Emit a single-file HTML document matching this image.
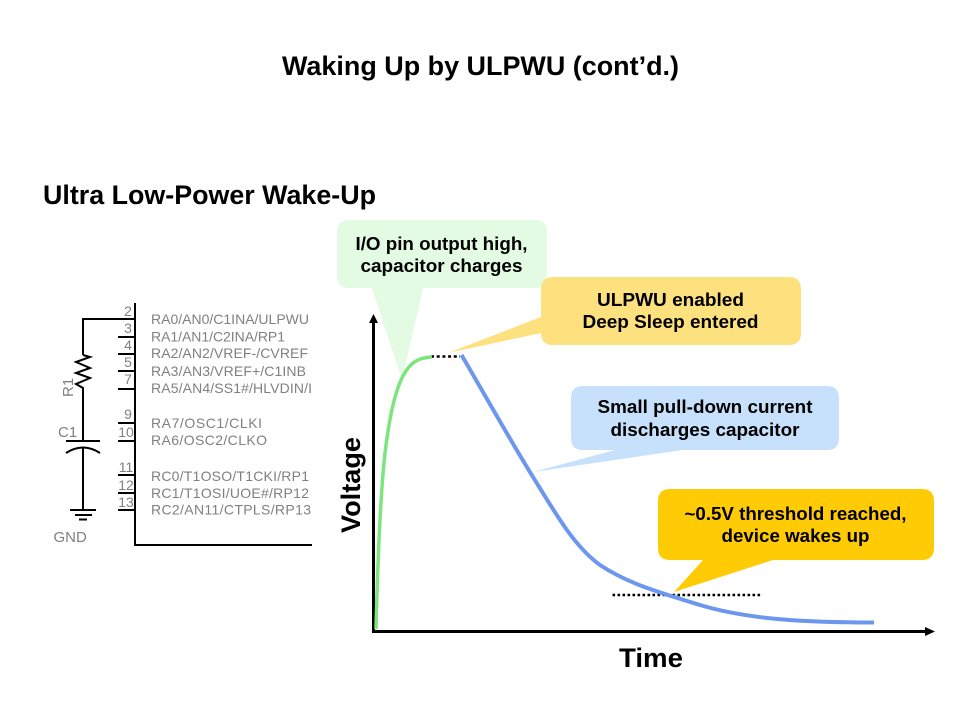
<!DOCTYPE html>
<html><head><meta charset="utf-8"><style>
html,body{margin:0;padding:0;background:#fff;width:960px;height:720px;overflow:hidden}
svg{display:block}
text{font-family:"Liberation Sans",sans-serif}
.b{font-weight:bold;fill:#000;text-anchor:middle;font-size:18.67px}
.p{fill:#808080;font-size:14px}
.n{fill:#808080;font-size:14px;text-anchor:middle}
.l{fill:#808080;font-size:15px}
</style></head><body>
<svg width="960" height="720" viewBox="0 0 960 720" xmlns="http://www.w3.org/2000/svg">
<defs><clipPath id="c"><rect x="140" y="300" width="172" height="230"/></clipPath></defs>
<rect width="960" height="720" fill="#fff"/>
<text x="480.500" y="75" font-size="26.670" font-weight="bold" text-anchor="middle" textLength="397" lengthAdjust="spacingAndGlyphs">Waking Up by ULPWU (cont’d.)</text>
<text x="43" y="204" font-size="26.670" font-weight="bold" textLength="333" lengthAdjust="spacingAndGlyphs">Ultra Low-Power Wake-Up</text>

<!-- schematic -->
<g stroke="#000" stroke-width="2" fill="none">
<path d="M135 303V545H312"/>
<path d="M83 355V319H135"/>
<path d="M118 337H135M118 354H135M118 371H135M118 389H135M118 423H135M118 441H135M118 475H135M118 493H135M118 510H135"/>
<path d="M83 355L90 357L76 362L90 368L76 373L90 378L76 384L83 388V441"/>
<path d="M66 441H100"/>
<path d="M66 453Q83 442 100 453"/>
<path d="M83 448V510"/>
<path d="M70 510H96M75 515H92M79 519.500H87"/>
</g>
<text class="n" x="128" y="316">2</text><text class="n" x="128" y="333">3</text><text class="n" x="128" y="350">4</text><text class="n" x="128" y="367">5</text><text class="n" x="128" y="384">7</text><text class="n" x="128" y="419">9</text><text class="n" x="126" y="437">10</text><text class="n" x="126" y="472">11</text><text class="n" x="126" y="490">12</text><text class="n" x="126" y="507">13</text>
<g clip-path="url(#c)">
<text class="p" x="151" y="324" textLength="158">RA0/AN0/C1INA/ULPWU</text>
<text class="p" x="151" y="341.500" textLength="134">RA1/AN1/C2INA/RP1</text>
<text class="p" x="151" y="358" textLength="157">RA2/AN2/VREF-/CVREF</text>
<text class="p" x="151" y="376" textLength="155">RA3/AN3/VREF+/C1INB</text>
<text class="p" x="151" y="393" textLength="161">RA5/AN4/SS1#/HLVDIN/I</text>
<text class="p" x="151" y="428" textLength="111">RA7/OSC1/CLKI</text>
<text class="p" x="151" y="445" textLength="116">RA6/OSC2/CLKO</text>
<text class="p" x="151" y="481" textLength="158">RC0/T1OSO/T1CKI/RP1</text>
<text class="p" x="151" y="498" textLength="158">RC1/T1OSI/UOE#/RP12</text>
<text class="p" x="151" y="514.500" textLength="160">RC2/AN11/CTPLS/RP13</text>
</g>
<text x="0" y="0" class="l" transform="translate(73,397) rotate(-90)">R1</text>
<text x="58" y="437" class="l">C1</text>
<text x="53.500" y="542" class="l">GND</text>

<!-- axes -->
<path d="M373.500 632V322" stroke="#000" stroke-width="3" fill="none"/>
<path d="M369 323L373.500 314L378 323Z" fill="#000"/>
<path d="M372 631.500H926" stroke="#000" stroke-width="3" fill="none"/>
<path d="M925 627L935 631.500L925 636Z" fill="#000"/>

<!-- callouts -->
<path d="M349 220H535Q547 220 547 232V276Q547 288 535 288H423L402 380L372 288H349Q337 288 337 276V232Q337 220 349 220Z" fill="#e3fbe3"/>
<path d="M553 277H789Q801 277 801 289V333Q801 345 789 345H553Q541 345 541 333L448 353L541 317V289Q541 277 553 277Z" fill="#fde17f"/>
<path d="M583 386H827Q839 386 839 398V438Q839 450 827 450H683L533 472L615 450H583Q571 450 571 438V398Q571 386 583 386Z" fill="#c7e1fc"/>
<path d="M670 489H922Q934 489 934 501V548Q934 560 922 560H773L674 592L703 560H670Q658 560 658 548V501Q658 489 670 489Z" fill="#ffcb05"/>

<!-- curves -->
<path d="M431 356.500H460" stroke="#000" stroke-width="2.500" stroke-dasharray="3 2.700" fill="none"/>
<path d="M612.500 595H761" stroke="#000" stroke-width="2.500" stroke-dasharray="2.600 2.400" fill="none"/>
<path d="M376 629C377.500 570 380 490 386 445C391 408 398 375 413 363C419 358.500 425 357.500 432 357" stroke="#7de57d" stroke-width="3.500" fill="none"/>
<path d="M461.500 355C485 395 510 440 533 477C557 516 575 547 600 565C630 585 665 594 700 605C750 620 810 622.500 874 622.500" stroke="#6d97ee" stroke-width="4" fill="none"/>

<text class="b" x="441.500" y="250" textLength="172" lengthAdjust="spacingAndGlyphs">I/O pin output high,</text>
<text class="b" x="441.500" y="272" textLength="162" lengthAdjust="spacingAndGlyphs">capacitor charges</text>
<text class="b" x="670.500" y="306" textLength="147" lengthAdjust="spacingAndGlyphs">ULPWU enabled</text>
<text class="b" x="670.500" y="328" textLength="176" lengthAdjust="spacingAndGlyphs">Deep Sleep entered</text>
<text class="b" x="705" y="413" textLength="215" lengthAdjust="spacingAndGlyphs">Small pull-down current</text>
<text class="b" x="705" y="436" textLength="189" lengthAdjust="spacingAndGlyphs">discharges capacitor</text>
<text class="b" x="795.500" y="520" textLength="222" lengthAdjust="spacingAndGlyphs">~0.5V threshold reached,</text>
<text class="b" x="795.500" y="542" textLength="148" lengthAdjust="spacingAndGlyphs">device wakes up</text>

<text x="0" y="0" font-size="27" font-weight="bold" transform="translate(360,533) rotate(-90)" textLength="96" lengthAdjust="spacingAndGlyphs">Voltage</text>
<text x="619" y="667" font-size="27" font-weight="bold" textLength="64" lengthAdjust="spacingAndGlyphs">Time</text>
</svg>
</body></html>
